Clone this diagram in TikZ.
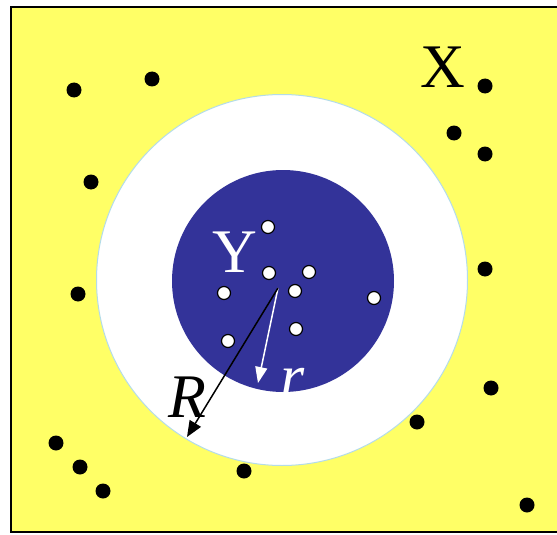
\documentclass[tikz,border=0pt]{standalone}
\usepackage{fontspec}
\setmainfont{Liberation Serif}
\usetikzlibrary{arrows.meta}
\definecolor{bgyellow}{RGB}{255,255,102}
\definecolor{ydark}{RGB}{51,51,153}
\definecolor{rimblue}{RGB}{180,220,232}
\tikzset{
  xdot/.style={circle,fill=black,minimum size=15pt,inner sep=0pt},
  ydot/.style={circle,fill=white,draw=black,line width=1.2pt,minimum size=13pt,inner sep=0pt},
  biglabel/.style={inner sep=0pt,anchor=base,font=\fontsize{62}{62}\selectfont}
}
\begin{document}
\begin{tikzpicture}[x=1pt,y=-1pt]
\useasboundingbox (0,0) rectangle (557,535);
\draw[fill=bgyellow,line width=1.5pt] (11,7) rectangle (560,532);
\node[circle,fill=white,draw=rimblue,line width=1pt,minimum size=371pt,inner sep=0pt] (outer) at (282,280) {};
\node[circle,fill=ydark,minimum size=222pt,inner sep=0pt] (inner) at (283,281) {};
\coordinate (c) at (278,288);
% X points
\foreach \n/\x/\y in {a/74/90,b/152/79,c1/485/86,d/454/133,e/485/154,f/91/182,g/78/294,h/485/269,i/491/388,j/417/422,k/56/443,l/80/467,m/103/491,n/244/471,o/527/505}
  \node[xdot] (x\n) at (\x,\y) {};
% Y points
\foreach \n/\x/\y in {a/268/227,b/269/273,c1/309/272,d/224/293,e/295/291,f/374/298,g/296/329,h/228/341}
  \node[ydot] (y\n) at (\x,\y) {};
\coordinate (rend) at (258,383);
\coordinate (Rend) at (187,437);
\draw[white,line width=1.5pt,-{Triangle[length=16pt,width=12pt]}] (c) -- (rend);
\draw[black,line width=1.5pt,-{Triangle[length=16pt,width=13pt]}] (c) -- (Rend);
\node[biglabel,text=black] (X) at (443,88) {X};
\node[biglabel,text=white] (Y) at (235,272) {Y};
\node[biglabel,text=black] (R) at (187,417) {\itshape R};
\node[biglabel,text=white] (r) at (293,397) {\itshape r};
\end{tikzpicture}
\end{document}
